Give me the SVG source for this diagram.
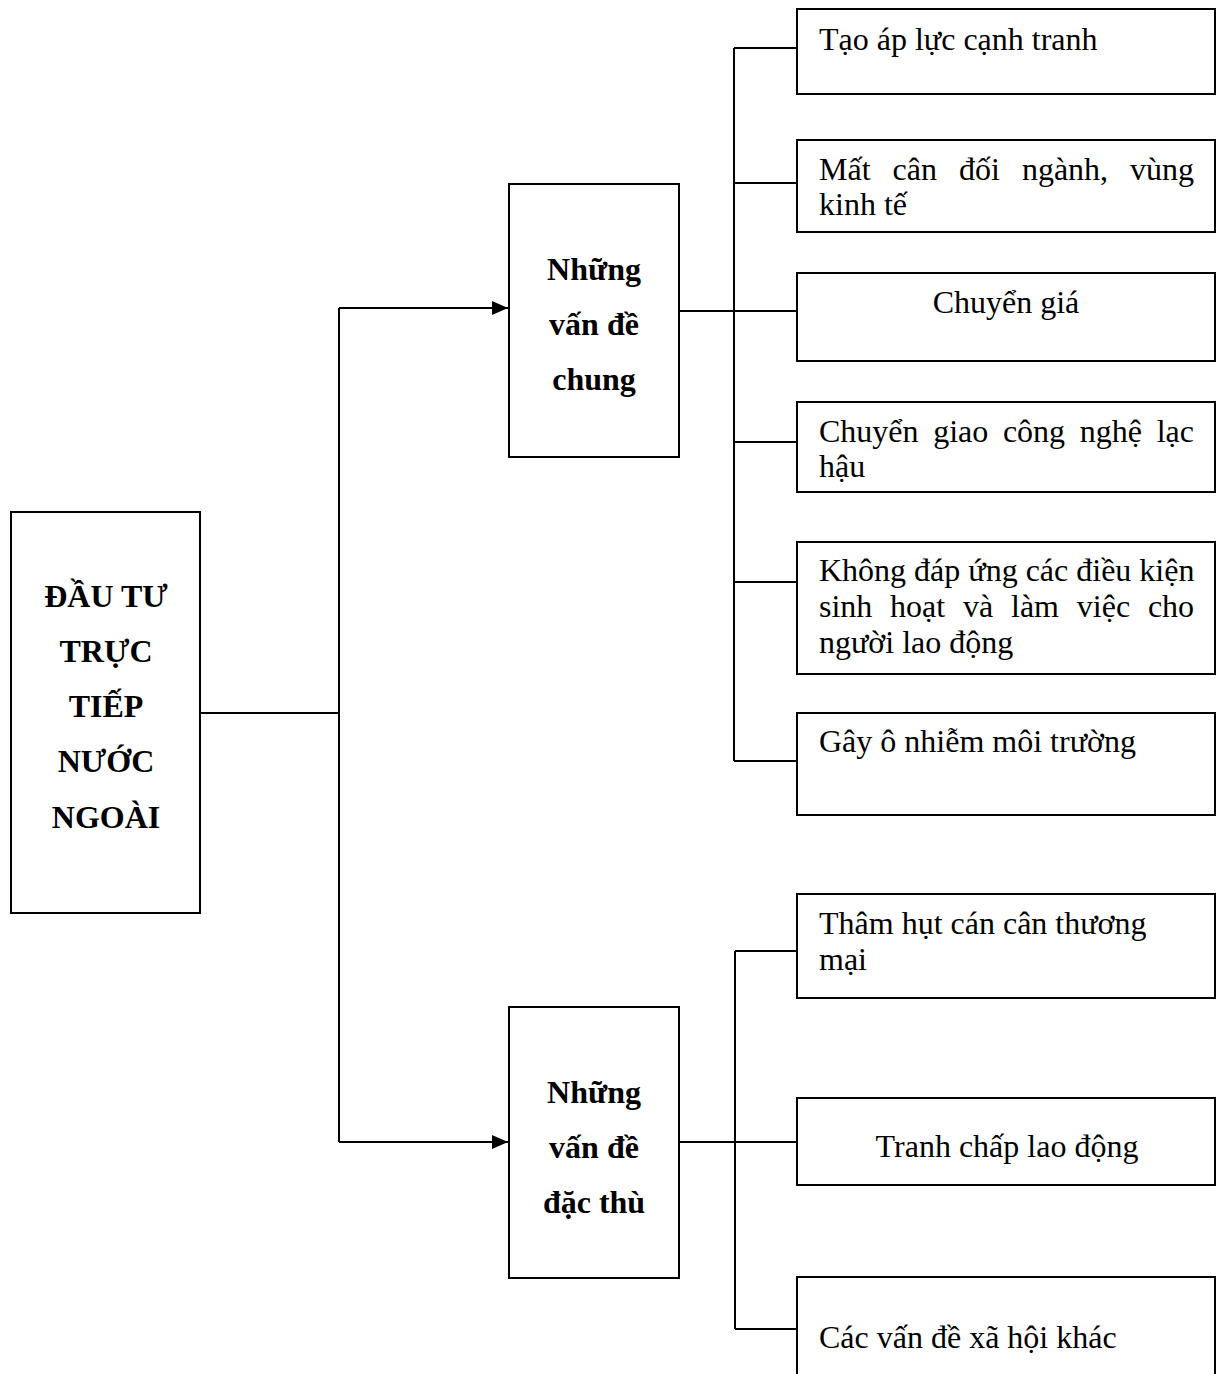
<svg xmlns="http://www.w3.org/2000/svg" width="1219" height="1374" viewBox="0 0 1219 1374">
<style>
rect.box{fill:#fff;stroke:#000;stroke-width:2}
.c{fill:none;stroke:#000;stroke-width:2}
text{font-family:"Liberation Serif","Times New Roman",serif;font-size:32px;fill:#000}
.b{font-weight:bold;text-anchor:middle}
.m{text-anchor:middle}
</style>
<defs>
<marker id="ah" markerWidth="16" markerHeight="14" refX="16" refY="7" orient="auto" markerUnits="userSpaceOnUse">
<path d="M0,0 L16,7 L0,14 Z" fill="#000"/>
</marker>
</defs>
<rect width="1219" height="1374" fill="#fff"/>
<g id="connectors">
<path class="c" d="M200,713 H339"/>
<path class="c" d="M339,308 V1142"/>
<path class="c" d="M339,308 H508" marker-end="url(#ah)"/>
<path class="c" d="M339,1142 H508" marker-end="url(#ah)"/>
<path class="c" d="M679,311 H797"/>
<path class="c" d="M734,48 V761"/>
<path class="c" d="M734,48 H797"/>
<path class="c" d="M734,183 H797"/>
<path class="c" d="M734,442 H797"/>
<path class="c" d="M734,582 H797"/>
<path class="c" d="M734,761 H797"/>
<path class="c" d="M679,1142 H797"/>
<path class="c" d="M735,951 V1329"/>
<path class="c" d="M735,951 H797"/>
<path class="c" d="M735,1329 H797"/>
</g>
<g id="root">
<rect class="box" x="11" y="512" width="189" height="401"/>
<text class="b" x="106" y="607">ĐẦU TƯ</text>
<text class="b" x="106" y="662">TRỰC</text>
<text class="b" x="106" y="717">TIẾP</text>
<text class="b" x="106" y="772">NƯỚC</text>
<text class="b" x="106" y="828">NGOÀI</text>
</g>
<g id="chung">
<rect class="box" x="509" y="184" width="170" height="273"/>
<text class="b" x="594" y="280">Những</text>
<text class="b" x="594" y="335">vấn đề</text>
<text class="b" x="594" y="390">chung</text>
</g>
<g id="dacthu">
<rect class="box" x="509" y="1007" width="170" height="271"/>
<text class="b" x="594" y="1103">Những</text>
<text class="b" x="594" y="1158">vấn đề</text>
<text class="b" x="594" y="1213">đặc thù</text>
</g>
<g id="n1">
<rect class="box" x="797" y="9" width="418" height="85"/>
<text x="819" y="50">Tạo áp lực cạnh tranh</text>
</g>
<g id="n2">
<rect class="box" x="797" y="140" width="418" height="92"/>
<text y="180"><tspan x="819">Mất</tspan><tspan x="892.6">cân</tspan><tspan x="959">đối</tspan><tspan x="1021.9">ngành,</tspan><tspan x="1130.1">vùng</tspan></text>
<text x="819" y="215">kinh tế</text>
</g>
<g id="n3">
<rect class="box" x="797" y="273" width="418" height="88"/>
<text class="m" x="1006" y="313">Chuyển giá</text>
</g>
<g id="n4">
<rect class="box" x="797" y="402" width="418" height="90"/>
<text y="442"><tspan x="819">Chuyển</tspan><tspan x="933.2">giao</tspan><tspan x="1002.9">công</tspan><tspan x="1079.8">nghệ</tspan><tspan x="1156.7">lạc</tspan></text>
<text x="819" y="477">hậu</text>
</g>
<g id="n5">
<rect class="box" x="797" y="542" width="418" height="132"/>
<text x="819" y="581">Không đáp ứng các điều kiện</text>
<text y="617"><tspan x="819">sinh</tspan><tspan x="890.1">hoạt</tspan><tspan x="963">và</tspan><tspan x="1011">làm</tspan><tspan x="1076.8">việc</tspan><tspan x="1147.9">cho</tspan></text>
<text x="819" y="653">người lao động</text>
</g>
<g id="n6">
<rect class="box" x="797" y="713" width="418" height="102"/>
<text x="819" y="752">Gây ô nhiễm môi trường</text>
</g>
<g id="n7">
<rect class="box" x="797" y="894" width="418" height="104"/>
<text x="819" y="934">Thâm hụt cán cân thương</text>
<text x="819" y="970">mại</text>
</g>
<g id="n8">
<rect class="box" x="797" y="1098" width="418" height="87"/>
<text class="m" x="1007" y="1157">Tranh chấp lao động</text>
</g>
<g id="n9">
<rect class="box" x="797" y="1277" width="418" height="130"/>
<text x="819" y="1348">Các vấn đề xã hội khác</text>
</g>
</svg>
